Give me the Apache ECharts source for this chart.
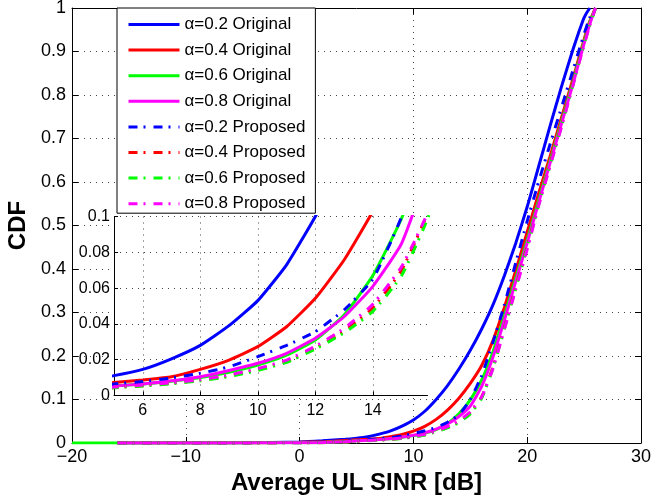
<!DOCTYPE html>
<html>
<head>
<meta charset="utf-8">
<script src="https://cdn.jsdelivr.net/npm/echarts@6/dist/echarts.min.js"></script>
<style>html,body{margin:0;padding:0;background:#fff}#c{width:651px;height:499px}</style>
</head>
<body>
<div id="c"></div>
<script>
// SINR sample points (dB)
const X = [-20, -16, -10, -5, 0, 2, 4, 5, 6, 7, 8, 9, 10, 11, 12, 13, 14, 15, 16, 17, 18, 19, 20, 21, 22, 23, 24, 24.5, 25, 25.5, 26];
// CDF values per series ('-' = no sample)
const blueOrig = ['-', 0, 0, 0.0005, 0.0025, 0.005, 0.0085, 0.0111, 0.0146, 0.0205, 0.028, 0.039, 0.053, 0.073, 0.100, 0.132, 0.170, 0.213, 0.262, 0.318, 0.385, 0.46, 0.543, 0.635, 0.728, 0.818, 0.903, 0.942, 0.978, 1, '-'];
const redOrig = ['-', 0, 0, 0.0003, 0.0015, 0.003, 0.0055, 0.0072, 0.0087, 0.0105, 0.0146, 0.0198, 0.0273, 0.0384, 0.0543, 0.0757, 0.103, 0.137, 0.178, 0.236, 0.312, 0.397, 0.485, 0.573, 0.658, 0.747, 0.835, 0.882, 0.928, 0.97, 1];
const greenOrig = [0, 0, 0, 0.0002, 0.0006, 0.0012, 0.003, 0.0052, 0.0064, 0.0080, 0.0100, 0.013, 0.017, 0.0225, 0.031, 0.045, 0.067, 0.099, 0.145, 0.21, 0.293, 0.38, 0.467, 0.558, 0.648, 0.738, 0.828, 0.876, 0.923, 0.967, 1];
const magentaOrig = ['-', 0, 0, 0.0002, 0.0006, 0.0012, 0.003, 0.0053, 0.0064, 0.0082, 0.0105, 0.014, 0.018, 0.0236, 0.032, 0.044, 0.061, 0.085, 0.13, 0.198, 0.283, 0.372, 0.46, 0.552, 0.643, 0.733, 0.823, 0.871, 0.918, 0.963, 1];
const blueProp = ['-', 0, 0, 0.0002, 0.0008, 0.0015, 0.0035, 0.0064, 0.0078, 0.0098, 0.0124, 0.016, 0.0217, 0.028, 0.0357, 0.0478, 0.065, 0.1, 0.155, 0.232, 0.318, 0.415, 0.51, 0.6, 0.686, 0.77, 0.855, 0.898, 0.94, 0.978, 1];
const redProp = ['-', 0, 0, 0.0001, 0.0004, 0.0008, 0.0025, 0.0045, 0.0055, 0.0068, 0.0085, 0.011, 0.0145, 0.019, 0.0265, 0.036, 0.049, 0.07, 0.106, 0.175, 0.265, 0.358, 0.451, 0.548, 0.64, 0.73, 0.825, 0.873, 0.92, 0.963, 1];
const greenProp = ['-', 0, 0, 0.0001, 0.0004, 0.0008, 0.0024, 0.0043, 0.0053, 0.0066, 0.0082, 0.0106, 0.014, 0.0185, 0.026, 0.035, 0.047, 0.067, 0.103, 0.172, 0.263, 0.356, 0.449, 0.547, 0.637, 0.727, 0.821, 0.87, 0.917, 0.961, 1];
const magentaProp = ['-', 0, 0, 0.0001, 0.0004, 0.0009, 0.0026, 0.0047, 0.0058, 0.0071, 0.0088, 0.0115, 0.015, 0.0198, 0.0275, 0.0375, 0.051, 0.072, 0.106, 0.172, 0.262, 0.354, 0.445, 0.545, 0.635, 0.725, 0.82, 0.868, 0.915, 0.96, 1];

const names = ['α=0.2 Original', 'α=0.4 Original', 'α=0.6 Original', 'α=0.8 Original',
               'α=0.2 Proposed', 'α=0.4 Proposed', 'α=0.6 Proposed', 'α=0.8 Proposed'];
const colors = ['#0000ff', '#ff0000', '#00ff00', '#ff00ff', '#0000ff', '#ff0000', '#00ff00', '#ff00ff'];
const values = [blueOrig, redOrig, greenOrig, magentaOrig, blueProp, redProp, greenProp, magentaProp];

const mainXTicks = { min: -20, max: 30, interval: 10 };
const mainYTicks = { min: 0, max: 1, interval: 0.1 };
const insetX = { min: 5, max: 15.9, ticks: [6, 8, 10, 12, 14] };
const insetY = { min: 0, max: 0.1, interval: 0.02 };

const FONT = 'Liberation Sans';
const dotted = { type: [1, 5], color: '#444', width: 1 };
const dashDot = [9, 6, 2, 8];

function pairs(v) {
  const out = [];
  for (let i = 0; i < X.length; i++) if (v[i] !== '-') out.push([X[i], v[i]]);
  return out;
}
const lblMain = { fontFamily: FONT, fontSize: 18, color: '#000' };
const lblInset = { fontFamily: FONT, fontSize: 16, color: '#000' };
const fmtX = v => v < 0 ? '\u2212' + (-v) : String(v);

const series = [];
[0, 1].forEach(g => {
  names.forEach((n, i) => {
    series.push({
      name: n, type: 'line', xAxisIndex: g === 0 ? 0 : 2, yAxisIndex: g === 0 ? 0 : 2,
      data: pairs(values[i]), symbol: 'none', showSymbol: false, clip: true,
      smooth: 0.15,
      z: g === 0 ? 2 : 6,
      lineStyle: { color: colors[i], width: 3, type: i < 4 ? 'solid' : dashDot, cap: 'butt' },
      itemStyle: { color: colors[i] },
      emphasis: { disabled: true }, silent: true
    });
  });
});

const chart = echarts.init(document.getElementById('c'), null, { renderer: 'canvas' });
chart.setOption({
  animation: false,
  backgroundColor: '#fff',
  grid: [
    { left: 72, top: 8, right: 10, bottom: 56, outerBoundsMode: 'none', containLabel: false },
    { left: 114, top: 216.5, width: 313.5, height: 179, show: true, backgroundColor: '#fff', borderWidth: 0, z: 4, outerBoundsMode: 'none', containLabel: false }
  ],
  legend: {
    orient: 'vertical', left: 117, top: 8, padding: [8, 10, 1, 10],
    itemWidth: 51, itemHeight: 14, itemGap: 8.6, itemTextGap: 6,
    backgroundColor: '#fff', borderColor: '#000', borderWidth: 1, borderRadius: 0,
    textStyle: { fontFamily: FONT, fontSize: 17, color: '#000' },
    itemStyle: { opacity: 0 },
    lineStyle: { width: 3 }, selectedMode: false, z: 10, data: names
  },
  xAxis: [
    { gridIndex: 0, type: 'value', position: 'bottom', ...mainXTicks,
      axisLine: { onZero: false, lineStyle: { color: '#000', width: 1 } },
      axisTick: { inside: true, length: 6, lineStyle: { color: '#000' } },
      axisLabel: { ...lblMain, margin: 5, formatter: fmtX },
      splitLine: { show: true, lineStyle: dotted },
      name: 'Average UL SINR [dB]', nameLocation: 'middle', nameGap: 40,
      nameTextStyle: { fontFamily: FONT, fontSize: 24, fontWeight: 'bold', color: '#000', verticalAlign: 'middle' } },
    { gridIndex: 0, type: 'value', position: 'top', ...mainXTicks,
      axisLine: { onZero: false, lineStyle: { color: '#000', width: 1 } },
      axisTick: { inside: true, length: 6, lineStyle: { color: '#000' } },
      axisLabel: { show: false }, splitLine: { show: false } },
    { gridIndex: 1, type: 'value', position: 'bottom', min: insetX.min, max: insetX.max, z: 5,
      axisLine: { onZero: false, lineStyle: { color: '#000', width: 1 } },
      axisTick: { inside: true, length: 4, lineStyle: { color: '#000' }, customValues: insetX.ticks },
      axisLabel: { ...lblInset, margin: 7, customValues: insetX.ticks },
      splitLine: { show: true, lineStyle: dotted } }
  ],
  yAxis: [
    { gridIndex: 0, type: 'value', position: 'left', ...mainYTicks,
      axisLine: { onZero: false, lineStyle: { color: '#000', width: 1 } },
      axisTick: { inside: true, length: 6, lineStyle: { color: '#000' } },
      axisLabel: { ...lblMain, margin: 6, formatter: v => String(Math.round(v * 10) / 10) },
      splitLine: { show: true, lineStyle: dotted },
      name: 'CDF', nameLocation: 'middle', nameGap: 50,
      nameTextStyle: { fontFamily: FONT, fontSize: 24, fontWeight: 'bold', color: '#000', verticalAlign: 'middle' } },
    { gridIndex: 0, type: 'value', position: 'right', ...mainYTicks,
      axisLine: { onZero: false, lineStyle: { color: '#000', width: 1 } },
      axisTick: { inside: true, length: 6, lineStyle: { color: '#000' } },
      axisLabel: { show: false }, splitLine: { show: false } },
    { gridIndex: 1, type: 'value', position: 'left', ...insetY, z: 5,
      axisLine: { onZero: false, lineStyle: { color: '#000', width: 1 } },
      axisTick: { inside: true, length: 4, lineStyle: { color: '#000' } },
      axisLabel: { ...lblInset, margin: 4, formatter: v => String(Math.round(v * 100) / 100) },
      splitLine: { show: true, lineStyle: dotted } }
  ],
  series: series
});
</script>
</body>
</html>
